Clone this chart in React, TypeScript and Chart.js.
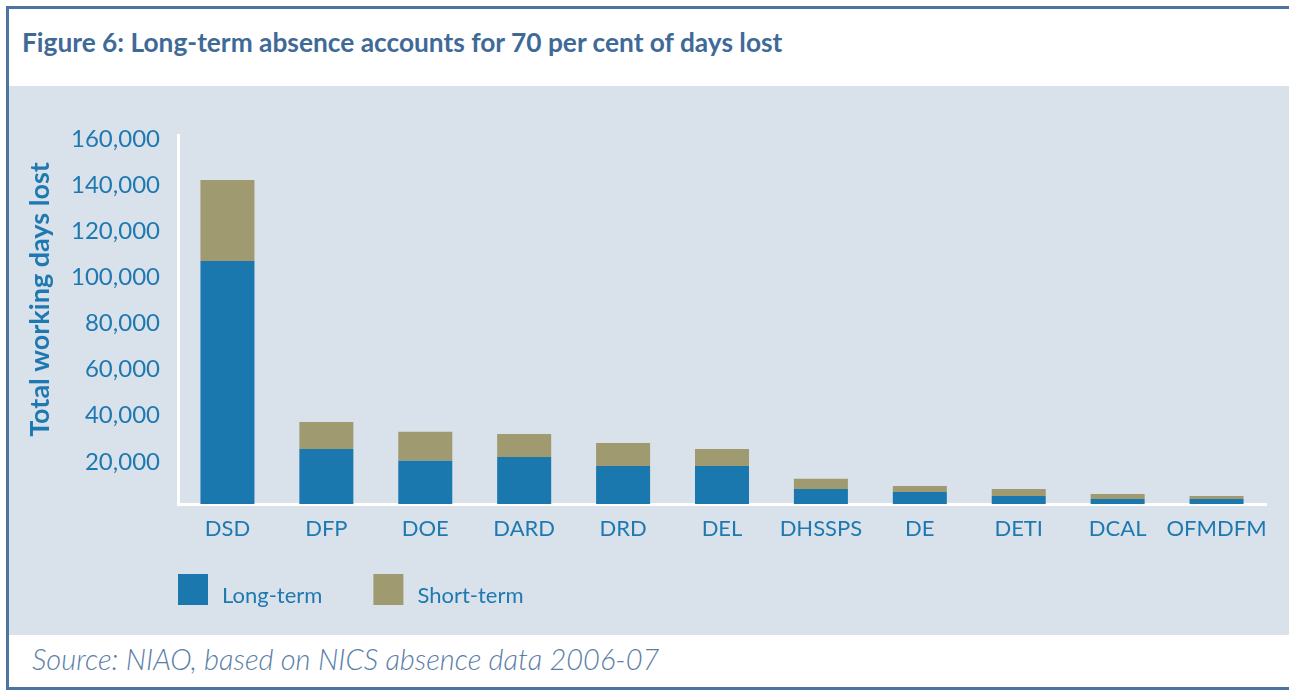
import React, { useEffect, useRef } from "react";
import { Chart, registerables } from "chart.js";

Chart.register(...registerables);

const categories = ["DSD", "DFP", "DOE", "DARD", "DRD", "DEL", "DHSSPS", "DE", "DETI", "DCAL", "OFMDFM"];
const longTerm = [105400, 23900, 18700, 20400, 16500, 16500, 6500, 5200, 3500, 2200, 2200];
const shortTerm = [35100, 11700, 12600, 10000, 10000, 7400, 4400, 2600, 3000, 2100, 1300];
const seriesLabels = ["Long-term", "Short-term"];
const yTicks = [0, 20000, 40000, 60000, 80000, 100000, 120000, 140000, 160000];
const yTitle = "Total working days lost";

const FONT = 'Lato, "Open Sans", sans-serif';
const BLUE_TEXT = "#1f79b1";
const LONG_COLOR = "#1a78af";
const SHORT_COLOR = "#a09a70";
const BG = "#d9e1ea";
const FRAME = "#4d74a0";

const legendPlugin = {
  id: "customLegend",
  afterDraw(chart: any) {
    const { ctx, chartArea } = chart;
    ctx.save();
    ctx.font = `22px ${FONT}`;
    ctx.textBaseline = "alphabetic";
    ctx.textAlign = "left";
    let x = chartArea.left;
    const y = chartArea.bottom + 70;
    chart.data.datasets.forEach((ds: any) => {
      ctx.fillStyle = ds.backgroundColor;
      ctx.fillRect(x, y, 30, 31);
      x += 30 + 14;
      ctx.fillStyle = BLUE_TEXT;
      ctx.fillText(ds.label, x, y + 29);
      x += ctx.measureText(ds.label).width + 51;
    });
    // rotated y-axis title
    ctx.save();
    ctx.translate(31, chartArea.top + (chartArea.bottom - chartArea.top) / 2 - 20);
    ctx.rotate(-Math.PI / 2);
    ctx.font = `bold 27px ${FONT}`;
    ctx.textAlign = "center";
    ctx.textBaseline = "middle";
    ctx.fillStyle = BLUE_TEXT;
    ctx.fillText(yTitle, 0, 0);
    ctx.restore();
    ctx.restore();
  },
};

function BarChart() {
  const ref = useRef<HTMLCanvasElement>(null);
  useEffect(() => {
    if (!ref.current) return;
    const chart = new Chart(ref.current, {
      type: "bar",
      data: {
        labels: categories,
        datasets: [
          { label: seriesLabels[0], data: longTerm, backgroundColor: LONG_COLOR, borderWidth: 0 },
          { label: seriesLabels[1], data: shortTerm, backgroundColor: SHORT_COLOR, borderWidth: 0 },
        ],
      },
      options: {
        responsive: false,
        animation: false,
        devicePixelRatio: 1,
        layout: { padding: { top: 49, right: 23, bottom: 81, left: 0 } },
        datasets: { bar: { categoryPercentage: 1, barPercentage: 0.546 } },
        plugins: { legend: { display: false }, tooltip: { enabled: false } },
        scales: {
          x: {
            stacked: true,
            grid: { display: false, drawTicks: false },
            border: { display: true, color: "#ffffff", width: 3 },
            ticks: {
              color: BLUE_TEXT,
              font: { family: FONT, size: 22 },
              padding: 12,
              maxRotation: 0,
              minRotation: 0,
              autoSkip: false,
            },
            afterFit: (s: any) => { s.height = 50; },
          },
          y: {
            stacked: true,
            min: 0,
            max: 160000,
            afterBuildTicks: (s: any) => { s.ticks = yTicks.map((v) => ({ value: v })); },
            grid: { display: false, drawTicks: false },
            border: { display: true, color: "#ffffff", width: 3 },
            ticks: {
              color: BLUE_TEXT,
              font: { family: FONT, size: 24 },
              padding: 18,
              labelOffset: 4,
              callback: (v: any) => (Number(v) === 0 ? "" : Number(v).toLocaleString("en-US")),
            },
            title: { display: false },
            afterFit: (s: any) => { s.width = 169; },
          },
        },
      },
      plugins: [legendPlugin],
    });
    return () => chart.destroy();
  }, []);
  return <canvas ref={ref} width={1280} height={549} style={{ display: "block" }} />;
}

export default function App() {
  return (
    <div style={{ position: "fixed", left: 0, top: 0, width: 1289, height: 691, background: "#ffffff", overflow: "hidden" }}>
      <div style={{ position: "absolute", left: 6, top: 6, width: 1320, height: 684, border: `3px solid ${FRAME}`, boxSizing: "border-box" }} />
      <div
        style={{
          position: "absolute", left: 22, top: 26, fontFamily: FONT, fontWeight: "bold", fontSize: 26.3,
          lineHeight: "32px", color: "#3f6a98", whiteSpace: "nowrap",
        }}
      >
        Figure 6: Long-term absence accounts for 70 per cent of days lost
      </div>
      <div style={{ position: "absolute", left: 9, top: 86, width: 1280, height: 549, background: BG }}>
        <BarChart />
      </div>
      <div
        style={{
          position: "absolute", left: 32, top: 641, fontFamily: FONT, fontStyle: "italic", fontWeight: 300,
          fontSize: 29, lineHeight: "36px", color: "#5a7ea9", whiteSpace: "nowrap",
        }}
      >
        Source: NIAO, based on NICS absence data 2006-07
      </div>
    </div>
  );
}
